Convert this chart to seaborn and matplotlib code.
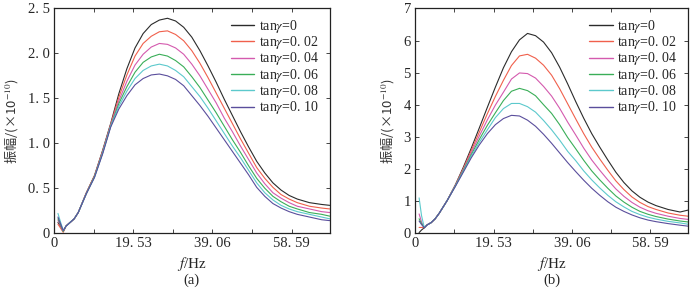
import matplotlib
matplotlib.use('Agg')
import matplotlib.pyplot as plt
import numpy as np
import pandas as pd
import seaborn as sns

sns.set_style('ticks')
plt.rcParams['font.family'] = ['Liberation Serif', 'Noto Sans CJK SC']
plt.rcParams['mathtext.fontset'] = 'stix'
plt.rcParams['axes.unicode_minus'] = False

freq = [1, 1.6, 2.3, 3, 4, 5, 6, 8, 10, 12, 14, 16, 18, 20, 22, 24, 26, 28, 30,
        32, 34, 36, 38, 40, 42, 44, 46, 48, 50, 52, 54, 56, 58, 60, 63, 66, 68]

labels = ['tan$\\gamma$=0', 'tan$\\gamma$=0. 02', 'tan$\\gamma$=0. 04',
          'tan$\\gamma$=0. 06', 'tan$\\gamma$=0. 08', 'tan$\\gamma$=0. 10']
colors = ['#2b2b2b', '#f0604c', '#d45aae', '#3aae58', '#5cc9cc', '#5a4e9c']

# panel (a)
a_t00 = [0.12, 0.08, 0.02, 0.08, 0.12, 0.16, 0.23, 0.45, 0.64, 0.92, 1.22, 1.55, 1.83, 2.06, 2.22, 2.32, 2.37, 2.39, 2.36,
         2.29, 2.18, 2.03, 1.86, 1.68, 1.49, 1.31, 1.13, 0.96, 0.80, 0.67, 0.56, 0.48, 0.42, 0.38, 0.34, 0.32, 0.31]
a_t02 = [0.10, 0.06, 0.01, 0.08, 0.12, 0.16, 0.23, 0.45, 0.64, 0.91, 1.21, 1.51, 1.76, 1.97, 2.11, 2.19, 2.24, 2.25, 2.21,
         2.14, 2.03, 1.89, 1.73, 1.56, 1.39, 1.22, 1.05, 0.89, 0.73, 0.61, 0.51, 0.43, 0.38, 0.34, 0.30, 0.28, 0.27]
a_t04 = [0.14, 0.09, 0.02, 0.08, 0.12, 0.16, 0.23, 0.44, 0.63, 0.90, 1.20, 1.47, 1.69, 1.87, 1.99, 2.07, 2.11, 2.10, 2.06,
         1.99, 1.88, 1.75, 1.60, 1.45, 1.28, 1.13, 0.97, 0.82, 0.67, 0.55, 0.45, 0.39, 0.34, 0.30, 0.27, 0.24, 0.23]
a_t06 = [0.16, 0.10, 0.02, 0.08, 0.12, 0.16, 0.23, 0.44, 0.63, 0.89, 1.19, 1.44, 1.63, 1.79, 1.90, 1.96, 1.99, 1.97, 1.92,
         1.85, 1.74, 1.62, 1.48, 1.34, 1.19, 1.04, 0.90, 0.75, 0.61, 0.50, 0.41, 0.35, 0.30, 0.27, 0.23, 0.21, 0.19]
a_t08 = [0.22, 0.13, 0.03, 0.08, 0.12, 0.16, 0.23, 0.44, 0.62, 0.89, 1.19, 1.41, 1.58, 1.72, 1.81, 1.86, 1.88, 1.86, 1.81,
         1.74, 1.63, 1.52, 1.39, 1.25, 1.11, 0.97, 0.84, 0.70, 0.56, 0.45, 0.37, 0.31, 0.27, 0.24, 0.21, 0.18, 0.16]
a_t10 = [0.18, 0.11, 0.03, 0.08, 0.12, 0.16, 0.23, 0.44, 0.62, 0.88, 1.18, 1.38, 1.53, 1.65, 1.72, 1.76, 1.77, 1.75, 1.71,
         1.64, 1.53, 1.42, 1.30, 1.17, 1.04, 0.91, 0.78, 0.65, 0.51, 0.41, 0.33, 0.28, 0.24, 0.21, 0.18, 0.15, 0.14]

# panel (b)
b_t00 = [0.02, 0.10, 0.17, 0.26, 0.33, 0.45, 0.62, 1.02, 1.50, 2.05, 2.65, 3.28, 3.92, 4.55, 5.15, 5.65, 6.02, 6.22, 6.15,
         5.95, 5.62, 5.17, 4.65, 4.10, 3.58, 3.10, 2.68, 2.28, 1.90, 1.58, 1.32, 1.12, 0.97, 0.86, 0.74, 0.66, 0.72]
b_t02 = [0.18, 0.18, 0.17, 0.26, 0.33, 0.45, 0.62, 1.02, 1.49, 2.01, 2.58, 3.15, 3.72, 4.26, 4.76, 5.22, 5.52, 5.57, 5.45,
         5.23, 4.92, 4.50, 4.03, 3.56, 3.10, 2.68, 2.31, 1.96, 1.63, 1.36, 1.13, 0.96, 0.83, 0.74, 0.63, 0.56, 0.53]
b_t04 = [0.60, 0.35, 0.17, 0.26, 0.33, 0.45, 0.62, 1.02, 1.48, 1.98, 2.51, 3.03, 3.53, 3.99, 4.39, 4.80, 4.99, 4.97, 4.83,
         4.57, 4.27, 3.89, 3.46, 3.06, 2.65, 2.28, 1.96, 1.66, 1.38, 1.15, 0.96, 0.81, 0.70, 0.62, 0.53, 0.46, 0.43]
b_t06 = [0.45, 0.30, 0.17, 0.26, 0.33, 0.45, 0.62, 1.02, 1.47, 1.95, 2.45, 2.92, 3.36, 3.75, 4.13, 4.42, 4.51, 4.44, 4.28,
         4.00, 3.73, 3.38, 2.98, 2.63, 2.27, 1.94, 1.66, 1.40, 1.16, 0.97, 0.81, 0.68, 0.59, 0.52, 0.44, 0.38, 0.35]
b_t08 = [1.10, 0.55, 0.17, 0.26, 0.33, 0.45, 0.62, 1.02, 1.46, 1.92, 2.40, 2.83, 3.22, 3.60, 3.88, 4.04, 4.04, 3.94, 3.77,
         3.51, 3.22, 2.90, 2.55, 2.26, 1.94, 1.66, 1.41, 1.18, 0.98, 0.82, 0.68, 0.58, 0.50, 0.44, 0.37, 0.32, 0.28]
b_t10 = [0.38, 0.27, 0.17, 0.26, 0.33, 0.45, 0.62, 1.02, 1.45, 1.90, 2.35, 2.75, 3.10, 3.38, 3.57, 3.67, 3.65, 3.52, 3.33,
         3.08, 2.80, 2.50, 2.20, 1.92, 1.65, 1.40, 1.18, 0.98, 0.81, 0.68, 0.57, 0.48, 0.41, 0.36, 0.30, 0.25, 0.22]

xticks = [0, 19.53, 39.06, 58.59]
xticklabels = ['0', '19. 53', '39. 06', '58. 59']
xminor = [9.77, 29.30, 48.83]


def make_df(series):
    rows = []
    for lab, vals in zip(labels, series):
        rows.append(pd.DataFrame({'f': freq, 'amp': vals, 'case': lab}))
    return pd.concat(rows, ignore_index=True)


fig = plt.figure(figsize=(7, 2.89), dpi=100)
ax1 = fig.add_axes([0.077, 0.193, 0.394, 0.778])
ax2 = fig.add_axes([0.593, 0.193, 0.390, 0.778])

panels = [
    (ax1, make_df([a_t00, a_t02, a_t04, a_t06, a_t08, a_t10]), 2.5,
     [0, 0.5, 1.0, 1.5, 2.0, 2.5], ['0', '0. 5', '1. 0', '1. 5', '2. 0', '2. 5'], '(a)'),
    (ax2, make_df([b_t00, b_t02, b_t04, b_t06, b_t08, b_t10]), 7,
     list(range(8)), [str(i) for i in range(8)], '(b)'),
]

for ax, df, ymax, yt, ytl, tag in panels:
    sns.lineplot(data=df, x='f', y='amp', hue='case', palette=colors,
                 linewidth=0.8, ax=ax, legend=False, estimator=None, sort=False)
    ax.set_xlim(0, 68)
    ax.set_ylim(0, ymax)
    ax.set_xticks(xticks)
    ax.set_xticklabels(xticklabels)
    ax.set_xticks(xminor, minor=True)
    ax.set_yticks(yt)
    ax.set_yticklabels(ytl)
    ax.tick_params(which='both', direction='in', top=True, right=True,
                   length=3, width=0.6, labelsize=10.5, pad=3)
    for sp in ax.spines.values():
        sp.set_linewidth(0.9)
        sp.set_color('#222222')
    ax.set_xlabel('$f$/Hz', fontsize=11, labelpad=3)
    ax.set_ylabel('振幅/(×10$^{-10}$)', fontsize=9.5, labelpad=5,
                  family='Noto Sans CJK SC', color='#333333')
    handles = [plt.Line2D([], [], color=c, lw=1.0) for c in colors]
    ax.legend(handles, labels, loc='upper right', frameon=False, fontsize=10,
              handlelength=1.7, handletextpad=0.3, labelspacing=-0.05,
              borderaxespad=0.2, bbox_to_anchor=(0.99, 0.995))
    ax.text(0.5, -0.21, tag, transform=ax.transAxes, ha='center', va='center',
            fontsize=10.5)

fig.savefig('out.png', dpi=100)
